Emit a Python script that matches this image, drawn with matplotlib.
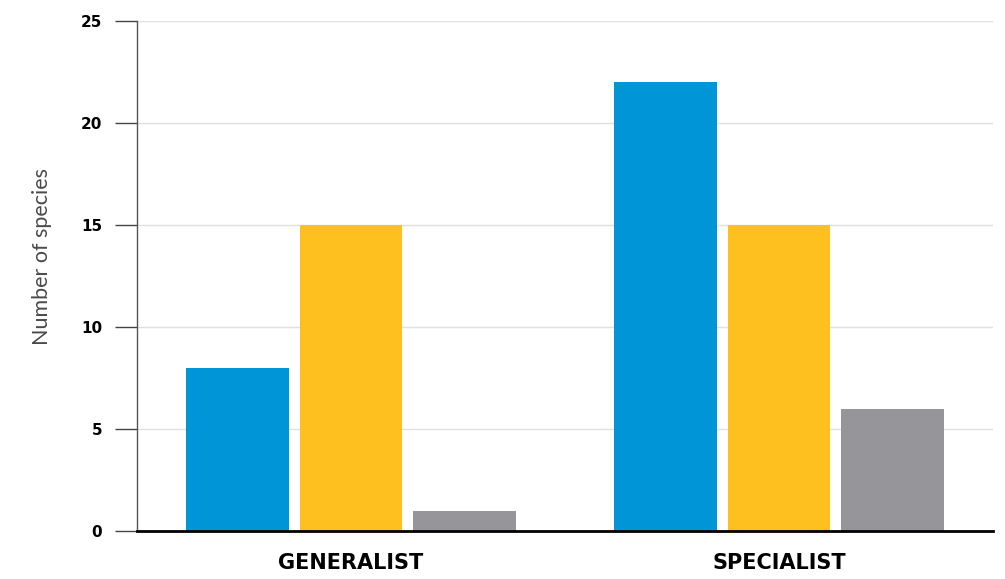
import matplotlib
matplotlib.use("Agg")
import matplotlib.pyplot as plt
import numpy as np

categories = ["GENERALIST", "SPECIALIST"]
series_a = [8, 22]
series_b = [15, 15]
series_c = [1, 6]
colors = ["#0095D6", "#FEC01F", "#96969A"]
yticks = [0, 5, 10, 15, 20, 25]

cond = ["Liberation Sans Narrow", "DejaVu Sans"]

fig = plt.figure(figsize=(10.05, 5.79), dpi=100)
ax = fig.add_axes([137/1005, 1-531/579, (993-137)/1005, (531-21)/579])

x = np.arange(len(categories))
w = 0.24
off = 0.266
for i, (vals, c) in enumerate(zip([series_a, series_b, series_c], colors)):
    ax.bar(x + (i-1)*off, vals, width=w, color=c, zorder=3)

ax.set_xlim(-0.5, 1.5)
ax.set_ylim(0, 25)
ax.set_yticks(yticks)
ax.set_yticklabels([str(t) for t in yticks], family=cond, fontweight="bold", fontsize=11)
ax.set_xticks(x)
ax.set_xticklabels(categories, family=cond, fontweight="bold", fontsize=15)
ax.tick_params(axis="x", length=0, pad=16)
ax.tick_params(axis="y", length=16, width=1, color="#444444", pad=9)
ax.grid(axis="y", color="#E0E0E0", linewidth=1, zorder=0)
for s in ["top", "right"]:
    ax.spines[s].set_visible(False)
ax.spines["left"].set_color("#555555")
ax.spines["left"].set_linewidth(1)
ax.spines["bottom"].set_color("black")
ax.spines["bottom"].set_linewidth(2)
ax.spines["bottom"].set_zorder(4)
ax.set_ylabel("Number of species", family=["Lato", "DejaVu Sans"], fontweight="normal",
              fontsize=15.5, color="#4a4a4a")
ax.yaxis.set_label_coords(-0.099, 0.539)
fig.savefig("out.png", dpi=100)
